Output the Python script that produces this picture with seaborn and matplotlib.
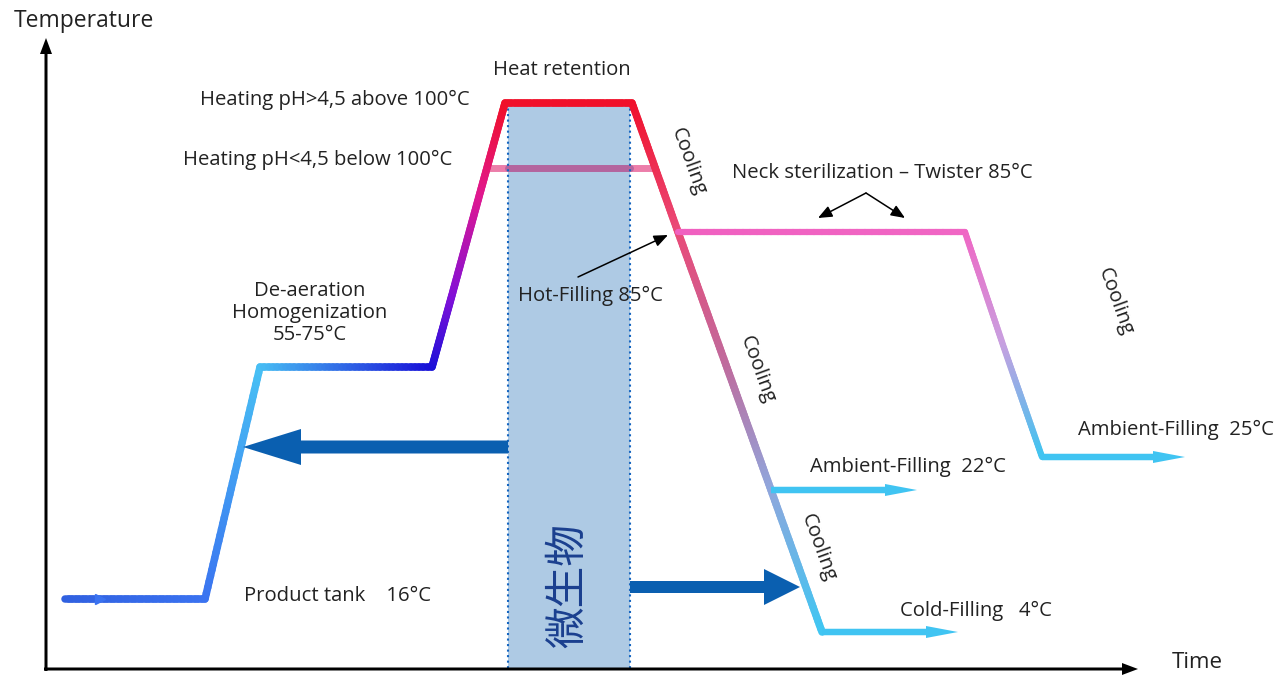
import numpy as np
import matplotlib.pyplot as plt
import seaborn as sns
from matplotlib.collections import LineCollection
from matplotlib.colors import to_rgb

# main process curve (time, temperature) in picture units, with colour at each vertex
main_t = [65, 205, 260, 432, 452, 480, 505, 632, 678, 726, 771, 822]
main_T = [599, 599, 367, 367, 295, 193, 103, 103, 232, 365, 490, 632]
main_c = ['#3060e0', '#3a72f0', '#48c0f4', '#1810d8', '#8010d8', '#e01890', '#f0102a',
          '#f0102a', '#ea4a78', '#c06a9c', '#90a6dc', '#40c6f2']

# neck sterilization branch
neck_t = [678, 965, 1003, 1042]
neck_T = [232, 232, 345, 457]
neck_c = ['#f060c0', '#f066c4', '#c8a0e0', '#40c4f0']

# low pH heating level
lowph_t = [487, 655]
lowph_T = [168, 168]

# filling outlets (start t, end t, level)
fill_start = [822, 771, 1042]
fill_end = [958, 917, 1185]
fill_level = [632, 490, 457]

# microbe zone
zone_t = [508, 630]
zone_top = 103
zone_bottom = 669

labels = [
    ("Heating pH>4,5 above 100°C", 470, 100, 'right'),
    ("Heating pH<4,5 below 100°C", 452, 160, 'right'),
    ("Heat retention", 562, 70, 'center'),
    ("Neck sterilization – Twister 85°C", 732, 173, 'left'),
    ("Hot-Filling 85°C", 590, 296, 'center'),
    ("De-aeration\nHomogenization\n55-75°C", 310, 313, 'center'),
    ("Product tank    16°C", 244, 596, 'left'),
    ("Ambient-Filling  22°C", 810, 467, 'left'),
    ("Cold-Filling   4°C", 900, 611, 'left'),
    ("Ambient-Filling  25°C", 1078, 430, 'left'),
]
cooling_t = [688, 757, 818, 1115]
cooling_T = [162, 370, 548, 302]

sns.set_style("white")
plt.rcParams['font.family'] = ['Open Sans', 'DejaVu Sans']

fig = plt.figure(figsize=(12.81, 6.76), dpi=100)
ax = fig.add_axes([0, 0, 1, 1])
ax.set_xlim(0, 1281)
ax.set_ylim(676, 0)
ax.axis('off')


def gradient_line(ts, Ts, cs, lw, z):
    segs, cols = [], []
    for i in range(len(ts) - 1):
        c0, c1 = np.array(to_rgb(cs[i])), np.array(to_rgb(cs[i + 1]))
        f = np.linspace(0, 1, 41)
        xs = ts[i] + (ts[i + 1] - ts[i]) * f
        ys = Ts[i] + (Ts[i + 1] - Ts[i]) * f
        for k in range(40):
            segs.append([(xs[k], ys[k]), (xs[k + 1], ys[k + 1])])
            cols.append(c0 + (c1 - c0) * (f[k] + f[k + 1]) / 2)
    lc = LineCollection(segs, colors=cols, linewidths=lw, capstyle='round', zorder=z)
    ax.add_collection(lc)


# microbe zone
ax.axvspan(zone_t[0], zone_t[1], ymin=1 - zone_bottom / 676, ymax=1 - zone_top / 676,
           facecolor='#aecae4', edgecolor='none', zorder=3)
for zt in zone_t:
    ax.plot([zt, zt], [zone_top, zone_bottom], color='#1565c0', lw=1.5, ls=':', zorder=4.5)

# low pH level line, darker where it crosses the zone
sns.lineplot(x=lowph_t, y=lowph_T, color='#ec7eaa', linewidth=5, ax=ax, zorder=2)
sns.lineplot(x=zone_t, y=lowph_T, color='#b4649e', linewidth=5, ax=ax, zorder=4)

# curves
gradient_line(main_t, main_T, main_c, 5.4, 5)
gradient_line(neck_t, neck_T, neck_c, 4.5, 5)
ax.plot([100], [599], marker='>', ms=7, color='#3a72f0', zorder=6)

for s, e, lv in zip(fill_start, fill_end, fill_level):
    ax.arrow(s, lv, e - s, 0, width=6.5, head_width=12, head_length=32,
             length_includes_head=True, color='#40c4f2', lw=0, zorder=5)

# big blue arrows
ax.arrow(zone_t[0], 447, 243 - zone_t[0], 0, width=13, head_width=36, head_length=58,
         length_includes_head=True, color='#0a5fb0', lw=0, zorder=6)
ax.arrow(zone_t[1], 587, 800 - zone_t[1], 0, width=12, head_width=36, head_length=36,
         length_includes_head=True, color='#0a5fb0', lw=0, zorder=6)

ax.text(569, 586, "微生物", rotation=90, ha='center', va='center', fontsize=30,
        color='#1a3f8f', family=['Noto Sans CJK SC', 'DejaVu Sans'], zorder=7)

# axes arrows
ax.arrow(46, 671, 0, 38 - 671, width=3, head_width=12, head_length=16,
         length_includes_head=True, color='black', lw=0, zorder=8)
ax.arrow(44, 669, 1138 - 44, 0, width=3, head_width=12, head_length=16,
         length_includes_head=True, color='black', lw=0, zorder=8)
ax.text(14, 21, "Temperature", fontsize=16.5, ha='left', va='center', color='#222222')
ax.text(1172, 663, "Time", fontsize=16, ha='left', va='center', color='#222222')

for txt, x, y, ha in labels:
    ax.text(x, y, txt, fontsize=14.6, ha=ha, va='center', color='#222222',
            linespacing=1.15, zorder=9)
for x, y in zip(cooling_t, cooling_T):
    ax.text(x, y, "Cooling", fontsize=14.6, rotation=-70, ha='center', va='center',
            color='#222222', zorder=9)

# pointer arrows
arrow_kw = dict(arrowstyle='-|>,head_length=0.6,head_width=0.25', color='black', lw=1.1,
                mutation_scale=14, shrinkA=0, shrinkB=0)
ax.annotate("", xy=(668, 235), xytext=(578, 277), arrowprops=arrow_kw, zorder=9)
ax.annotate("", xy=(818, 218), xytext=(866, 193), arrowprops=arrow_kw, zorder=9)
ax.annotate("", xy=(905, 218), xytext=(866, 193), arrowprops=arrow_kw, zorder=9)

fig.savefig("out.png", dpi=100)
